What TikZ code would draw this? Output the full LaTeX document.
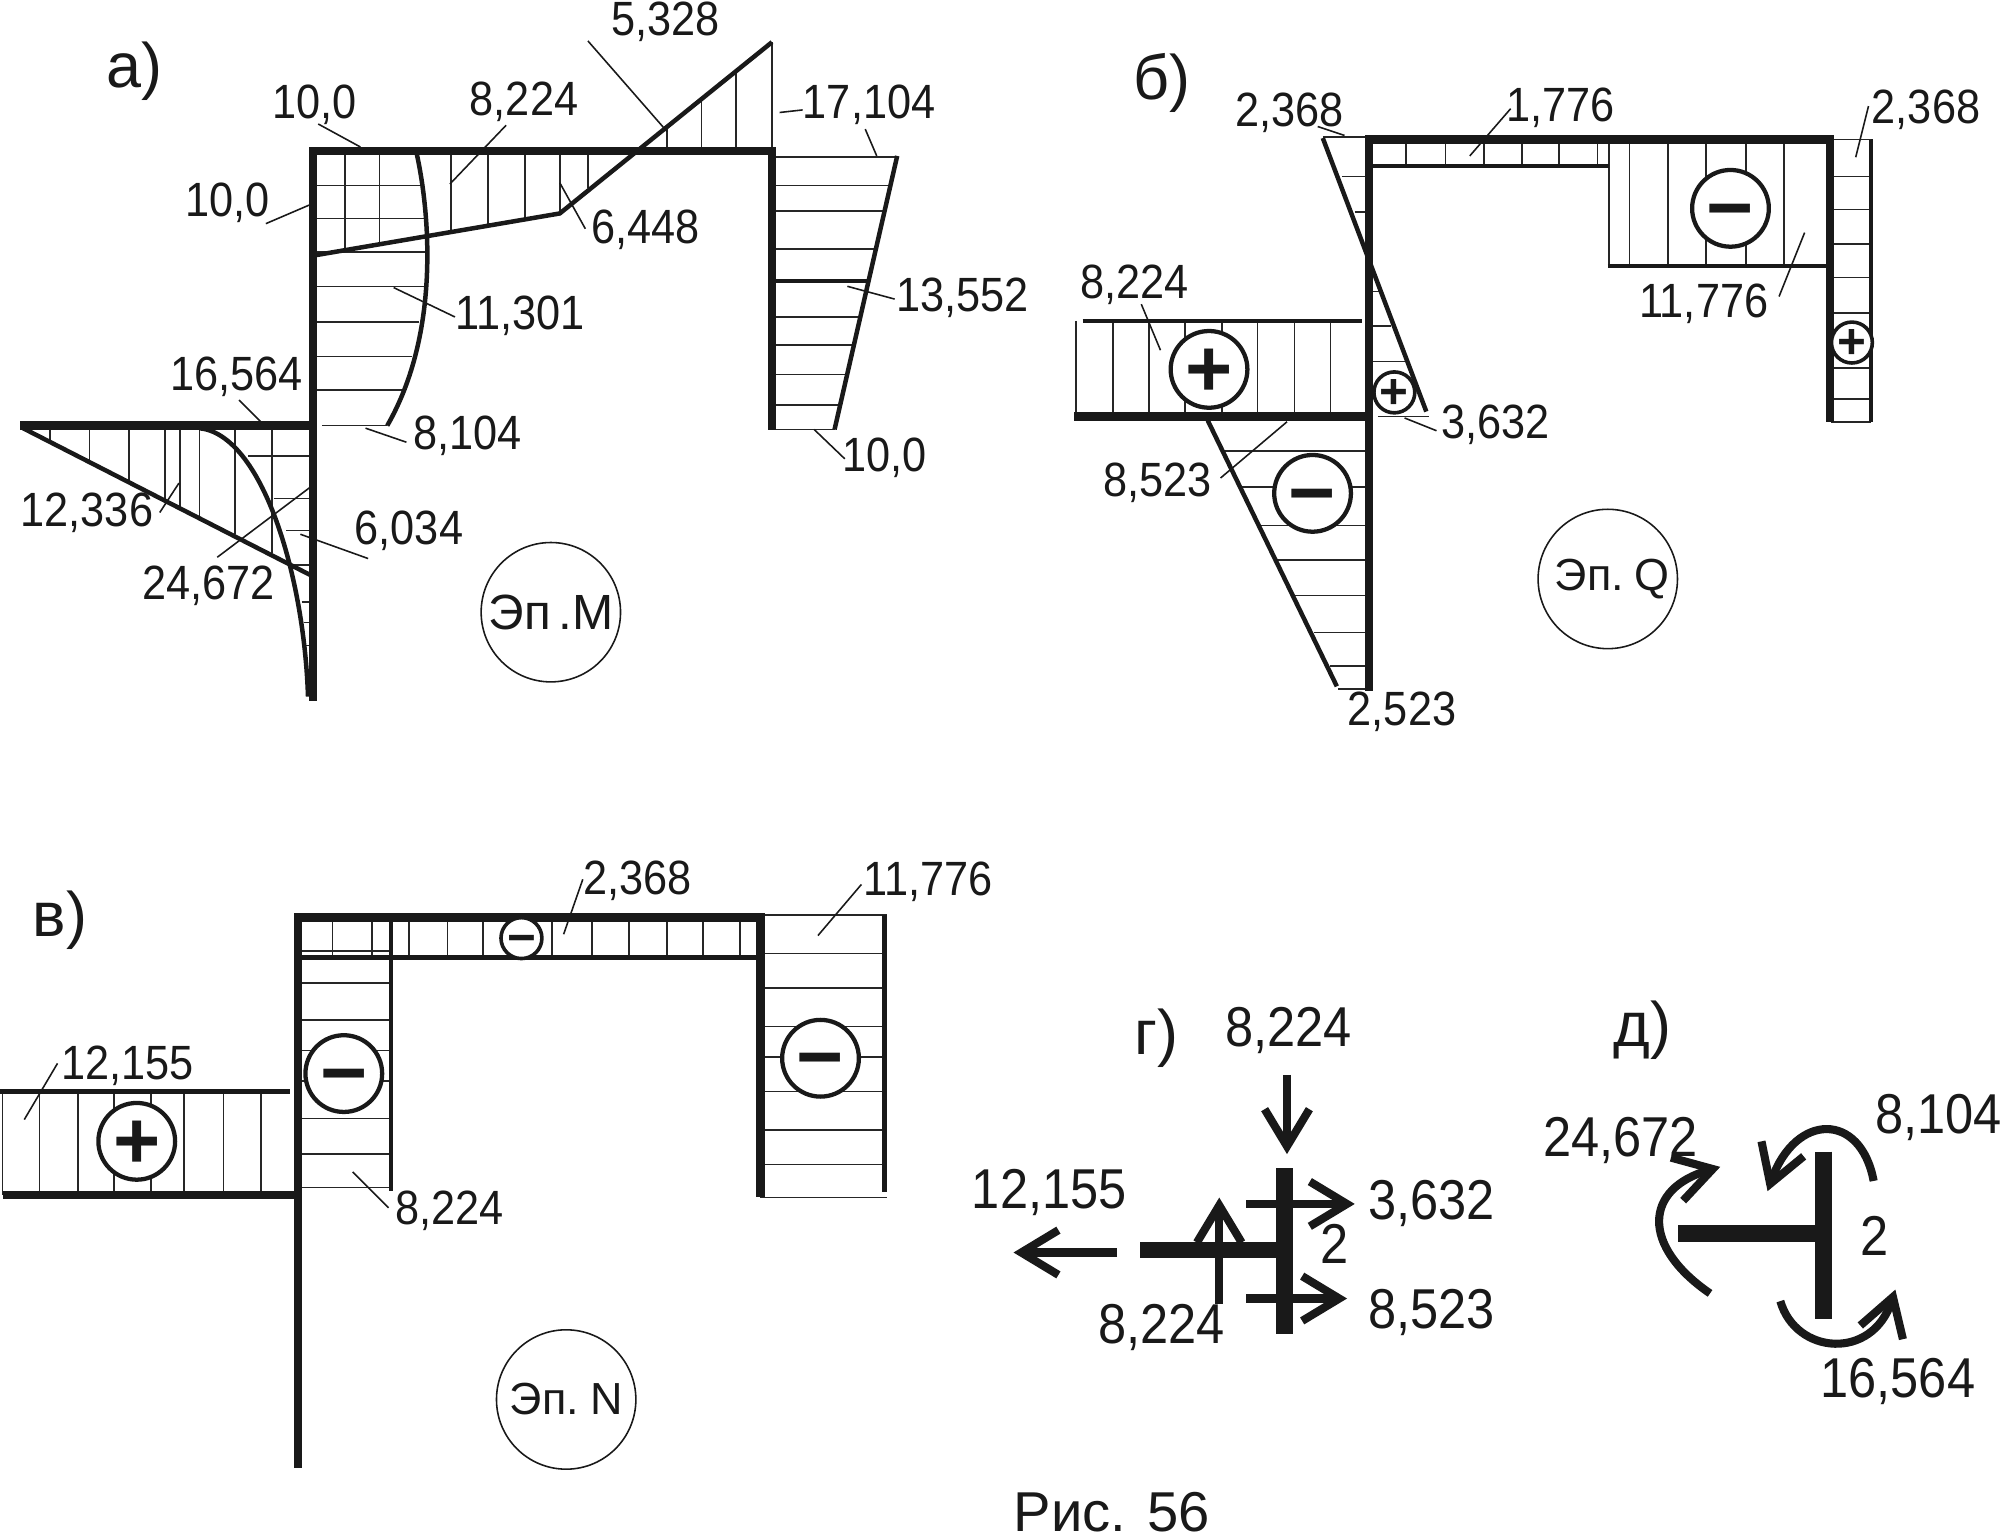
\documentclass[tikz,border=0pt]{standalone}
\usepackage{fontspec}
\setmainfont{Liberation Sans}
\newfontfamily\narrowfont[FakeStretch=0.9]{Liberation Sans}
\newfontfamily\platefont[WordSpace=0.55]{Liberation Sans}
\usetikzlibrary{arrows.meta}
\newcommand{\signmark}[1]{\raisebox{-0.33em}[0pt][0pt]{#1}}
\tikzset{
    x=0.01cm, y=-0.01cm,
    beam/.style={line width=1.9pt, line cap=rect, color=black!90},
    edge/.style={line width=1pt, color=black!90},
    hatch/.style={line width=0.35pt, color=black!85},
    lead/.style={line width=0.35pt, color=black!90},
    lab/.style={inner sep=0pt, yshift=-0.02cm, font=\narrowfont\fontsize{10.7}{12}\selectfont, text=black!90},
    biglab/.style={inner sep=0pt, yshift=-0.02cm, font=\narrowfont\fontsize{12.5}{14}\selectfont, text=black!90},
    part/.style={inner sep=0pt, font=\fontsize{14}{16}\selectfont, text=black!90},
    plate/.style={circle, draw=black!90, line width=0.35pt, minimum size=1.09cm, inner sep=0pt, font=\platefont\fontsize{10}{12}\selectfont, text=black!90},
    sign/.style={circle, draw=black!90, fill=white, line width=0.95pt, minimum size=0.6cm, inner sep=0pt, font=\bfseries\fontsize{18}{18}\selectfont, text=black!90},
    smallsign/.style={circle, draw=black!90, fill=white, line width=0.8pt, minimum size=0.32cm, inner sep=0pt, font=\bfseries\fontsize{11}{11}\selectfont, text=black!90},
    force/.style={line width=1.8pt, color=black!90, -{Straight Barb[length=2.9mm,width=3.5mm]}},
    bar/.style={line width=3.7pt, color=black!90}
}
\begin{document}
\begin{tikzpicture}
    \useasboundingbox (0,0) rectangle (1568,1202);

    % a) moments
    \draw[hatch] (270,118) -- (270,196) (297,118) -- (297,191) (353,118) -- (353,182) (382,118) -- (382,177);
    \draw[hatch] (411,118) -- (411,172) (438,118) -- (438,167) (460,118) -- (460,147);
    \draw[hatch] (522,118) -- (522,99) (549,118) -- (549,77) (576,118) -- (576,56) (604,118) -- (604,33);
    \draw[hatch] (247,145) -- (332,145) (247,171) -- (335,171) (247,197) -- (335,197) (247,224) -- (333,224);
    \draw[hatch] (247,252) -- (328,252) (247,279) -- (322,279) (247,305) -- (315,305) (252,333) -- (303,333);
    \draw[hatch] (607,123) -- (702,123) (607,145) -- (697,145) (607,165) -- (692,165) (607,195) -- (685,195);
    \draw[hatch] (607,248) -- (673,248) (607,270) -- (668,270) (607,293) -- (663,293) (607,317) -- (657,317) (605,336) -- (653,336);
    \draw[edge] (607,220) -- (680,220);
    \draw[hatch] (39,335) -- (39,346) (70,335) -- (70,361) (101,335) -- (101,377) (129,335) -- (129,391);
    \draw[hatch] (141,335) -- (141,397) (156,335) -- (156,404) (184,335) -- (184,418) (213,335) -- (213,433);
    \draw[hatch] (194,357) -- (243,357) (214,390) -- (243,390) (224,415) -- (243,415) (230,442) -- (243,442);
    \draw[hatch] (236,471) -- (243,471) (238,487) -- (243,487) (239,505) -- (243,505);
    \draw[edge] (326,120) .. controls (336,165) and (345,260) .. (303,333);
    \draw[edge] (245,200) -- (438,167) -- (604,33);
    \draw[edge] (702,122) -- (653,336);
    \draw[edge] (18,335) -- (243,450);
    \draw[edge] (156,335) .. controls (205,340) and (238,450) .. (241,545);
    \draw[beam] (245,545) -- (245,118) -- (604,118) -- (604,333);
    \draw[beam] (19,333) -- (245,333);
    \draw[lead] (249,97) -- (282,115) (208,175) -- (243,160) (396,98) -- (352,144) (460,32) -- (522,103);
    \draw[lead] (610,88) -- (628,86) (677,101) -- (686,122) (438,143) -- (458,179) (308,225) -- (356,248);
    \draw[lead] (663,224) -- (700,234) (187,313) -- (206,332) (286,335) -- (318,346) (637,336) -- (661,359);
    \draw[lead] (140,378) -- (125,401) (243,381) -- (170,436) (235,418) -- (288,437);
    \node[part] (parta) at (105,56) {а)};
    \node[lab] (ma) at (246,80) {10,0};
    \node[lab] (mb) at (178,157) {10,0};
    \node[lab] (mc) at (410,78) {8,224};
    \node[lab] (md) at (521,15) {5,328};
    \node[lab] (me) at (680,80) {17,104};
    \node[lab] (mf) at (505,178) {6,448};
    \node[lab] (mg) at (407,245) {11,301};
    \node[lab] (mh) at (753,231) {13,552};
    \node[lab] (mi) at (185,293) {16,564};
    \node[lab] (mj) at (366,339) {8,104};
    \node[lab] (mk) at (692,356) {10,0};
    \node[lab] (ml) at (68,399) {12,336};
    \node[lab] (mm) at (163,456) {24,672};
    \node[lab] (mn) at (320,413) {6,034};
    \node[plate, font=\platefont\fontsize{11}{12}\selectfont] (epm) at (431,479) {Эп .M};

    % b) shear
    \draw[hatch] (842,251) -- (842,323) (871,251) -- (871,323) (899,251) -- (899,323) (927,251) -- (927,323);
    \draw[hatch] (956,251) -- (956,323) (984,251) -- (984,323) (1013,251) -- (1013,323) (1041,251) -- (1041,323);
    \draw[hatch] (1100,110) -- (1100,130) (1131,110) -- (1131,130) (1161,110) -- (1161,130) (1191,110) -- (1191,130) (1220,110) -- (1220,130) (1250,110) -- (1250,130);
    \draw[hatch] (1259,110) -- (1259,208) (1275,110) -- (1275,208) (1305,110) -- (1305,208) (1335,110) -- (1335,208) (1366,110) -- (1366,208) (1396,110) -- (1396,208);
    \draw[hatch] (1035,107) -- (1071,107) (1050,138) -- (1069,138) (1060,166) -- (1069,166);
    \draw[hatch] (1073,228) -- (1079,228) (1073,255) -- (1088,255) (1073,283) -- (1099,283) (1078,326) -- (1118,326);
    \draw[hatch] (958,353) -- (1068,353) (971,381) -- (1068,381) (986,411) -- (1068,411) (999,438) -- (1068,438);
    \draw[hatch] (1013,466) -- (1068,466) (1028,495) -- (1068,495) (1041,521) -- (1068,521) (1047,539) -- (1068,539);
    \draw[hatch] (1433,138) -- (1464,138) (1433,164) -- (1464,164) (1433,191) -- (1464,191) (1433,217) -- (1464,217);
    \draw[hatch] (1433,245) -- (1464,245) (1433,288) -- (1464,288) (1433,312) -- (1464,312) (1433,330) -- (1464,330);
    \draw[edge] (847,251) -- (1066,251);
    \draw[edge] (1073,130) -- (1259,130);
    \draw[edge] (1258,208) -- (1431,208);
    \draw[edge] (1035,108) -- (1116,322);
    \draw[edge] (945,329) -- (1046,537);
    \draw[edge] (1464,109) -- (1464,330);
    \draw[hatch] (1433,109) -- (1464,109);
    \draw[beam] (1071,537) -- (1071,109) -- (1432,109) -- (1432,327);
    \draw[beam] (844,326) -- (1071,326);
    \draw[lead] (1031,99) -- (1052,106) (1182,85) -- (1150,122) (1462,83) -- (1452,123) (893,238) -- (908,274);
    \draw[lead] (1412,182) -- (1392,232) (1099,327) -- (1124,337) (1007,330) -- (955,374);
    \node[part] (partb) at (909,65) {б)};
    \node[sign] (qa) at (1354,163) {\signmark{−}};
    \node[sign] (qb) at (946,289) {\signmark{+}};
    \node[sign] (qc) at (1027,386) {\signmark{−}};
    \node[smallsign] (qd) at (1091,307) {\signmark{+}};
    \node[smallsign] (qe) at (1449,268) {\signmark{+}};
    \node[lab] (va) at (1009,86) {2,368};
    \node[lab] (vb) at (1221,82) {1,776};
    \node[lab] (vc) at (1507,84) {2,368};
    \node[lab] (vd) at (888,221) {8,224};
    \node[lab] (ve) at (1333,236) {11,776};
    \node[lab] (vf) at (1170,330) {3,632};
    \node[lab] (vg) at (906,376) {8,523};
    \node[lab] (vh) at (1097,555) {2,523};
    \node[plate] (epq) at (1258,453) {\hspace*{2pt}Эп. Q};

    % c) axial
    \draw[hatch] (2,854) -- (2,935) (31,854) -- (31,935) (61,854) -- (61,935) (89,854) -- (89,935);
    \draw[hatch] (118,854) -- (118,935) (144,854) -- (144,935) (175,854) -- (175,935) (204,854) -- (204,935);
    \draw[hatch] (260,718) -- (260,749) (291,718) -- (291,749) (320,718) -- (320,749) (350,718) -- (350,749) (378,718) -- (378,749) (432,718) -- (432,749);
    \draw[hatch] (463,718) -- (463,749) (492,718) -- (492,749) (522,718) -- (522,749) (550,718) -- (550,749) (579,718) -- (579,749);
    \draw[hatch] (236,744) -- (306,744) (236,769) -- (306,769) (236,798) -- (306,798) (236,822) -- (306,822);
    \draw[hatch] (236,846) -- (306,846) (236,875) -- (306,875) (236,903) -- (306,903) (236,929) -- (306,929);
    \draw[hatch] (595,716) -- (694,716) (597,746) -- (694,746) (597,773) -- (694,773) (597,803) -- (694,803);
    \draw[hatch] (597,827) -- (694,827) (597,854) -- (694,854) (597,884) -- (694,884) (597,911) -- (694,911) (595,937) -- (694,937);
    \draw[edge] (0,854) -- (227,854);
    \draw[edge] (236,749) -- (597,749);
    \draw[edge] (306,718) -- (306,932);
    \draw[edge] (692,716) -- (692,933);
    \draw[beam] (233,1145) -- (233,718) -- (595,718) -- (595,933);
    \draw[beam] (6,935) -- (233,935);
    \draw[lead] (456,688) -- (441,731) (674,692) -- (640,732) (45,832) -- (19,876) (276,917) -- (304,945);
    \node[part] (partc) at (47,720) {в)};
    \node[sign] (na) at (269,840) {\signmark{−}};
    \node[sign] (nb) at (642,828) {\signmark{−}};
    \node[sign] (nc) at (107,893) {\signmark{+}};
    \node[smallsign] (nd) at (408,734) {\signmark{−}};
    \node[lab] (wa) at (499,687) {2,368};
    \node[lab] (wb) at (726,688) {11,776};
    \node[lab] (wc) at (100,832) {12,155};
    \node[lab] (wd) at (352,945) {8,224};
    \node[plate] (epn) at (443,1095) {Эп. N};

    % g) forces at joint
    \draw[bar] (1005,914) -- (1005,1044);
    \draw[bar] (892,978) -- (1005,978);
    \draw[force] (1007,841) -- (1007,903);
    \draw[force] (975,942) -- (1060,942);
    \draw[force] (975,1016) -- (1054,1016);
    \draw[force] (954,1020) -- (954,937);
    \draw[force] (874,980) -- (793,980);
    \node[part] (partd) at (905,812) {г)};
    \node[biglab] (fa) at (1008,804) {8,224};
    \node[biglab] (fb) at (821,931) {12,155};
    \node[biglab] (fc) at (1120,940) {3,632};
    \node[biglab] (fd) at (1120,1025) {8,523};
    \node[biglab] (fe) at (909,1037) {8,224};
    \node[biglab] (ff) at (1044,971) {2};

    % d) moments at joint
    \draw[bar] (1427,901) -- (1427,1032);
    \draw[bar] (1313,965) -- (1427,965);
    \draw[force] (1466,924) .. controls (1456,870) and (1405,870) .. (1383,932);
    \draw[force] (1338,1012) .. controls (1284,975) and (1286,930) .. (1346,913);
    \draw[force] (1393,1018) .. controls (1405,1060) and (1465,1065) .. (1483,1009);
    \node[part] (parte) at (1285,806) {д)};
    \node[biglab] (ga) at (1268,890) {24,672};
    \node[biglab] (gb) at (1517,872) {8,104};
    \node[biglab] (gc) at (1467,965) {2};
    \node[biglab] (gd) at (1485,1079) {16,564};

    \node[inner sep=0pt, font=\fontsize{12.5}{15}\selectfont, text=black!90] (cap) at (870,1183) {Рис. 56};
\end{tikzpicture}
\end{document}
